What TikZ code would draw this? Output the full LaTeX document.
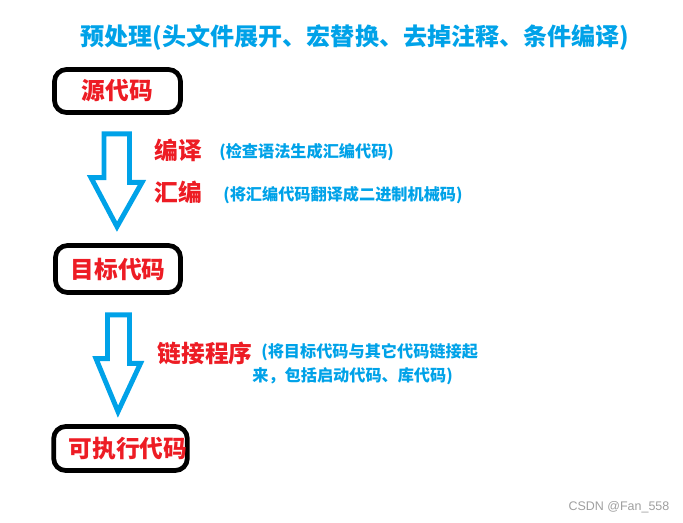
\documentclass[tikz,border=0pt]{standalone}
\usepackage{fontspec}
\setmainfont{Noto Sans CJK SC}
\newfontfamily\markfont{Liberation Sans}
\usetikzlibrary{calc}

\definecolor{paintblue}{HTML}{00A2E8}
\definecolor{paintred}{HTML}{ED1C24}

\tikzset{
  codebox/.style={draw, line width=2.7pt, rounded corners=0.24cm, inner sep=0pt,
    text=paintred, font=\bfseries\fontsize{13.5}{16}\selectfont},
  steplbl/.style={text=paintred, font=\bfseries\fontsize{13.5}{16}\selectfont, inner sep=0pt},
  notelbl/.style={text=paintblue, font=\bfseries\fontsize{9.2}{13.6}\selectfont, anchor=west, inner sep=0pt},
  blockarr/.style={draw=paintblue, line width=2.8pt, line join=miter}
}

\begin{document}
\begin{tikzpicture}[x=0.02cm, y=-0.02cm]
\useasboundingbox (0,0) rectangle (683,522);

\node(title)[text=paintblue, font=\bfseries\fontsize{13.7}{16}\selectfont] at (355,38) {预处理(头文件展开、宏替换、去掉注释、条件编译)};

\node(src)[codebox, minimum width=2.52cm, minimum height=0.86cm] at (117.5,91) {源代码};
\node(obj)[codebox, minimum width=2.5cm, minimum height=0.94cm] at (118,269) {目标代码};
\node(exe)[codebox, minimum width=2.6cm, minimum height=0.88cm] at (120.5,448.5) {\hspace*{3mm}可执行代码};

\node(compile)[steplbl] at (178,150) {编译};
\node(asm)[steplbl] at (178,192) {汇编};
\node(link)[steplbl] at (205,353) {链接程序};

\node(compilenote)[notelbl] at (219,152) {(检查语法生成汇编代码)};
\node(asmnote)[notelbl] at (223,195) {(将汇编代码翻译成二进制机械码)};
\node(linknote)[notelbl, align=left] at (252,364) {\hspace*{1.8mm}(将目标代码与其它代码链接起\\来，包括启动代码、库代码)};

\node(mark)[text=gray!75, font=\markfont\fontsize{7.1}{9}\selectfont] at (619,507) {CSDN @Fan\_558};

% hollow arrows between the boxes
\coordinate(a1s) at ($(src.south)+(-0.75,19)$);
\coordinate(a1t) at ($(obj.north)+(-1,-16.5)$);
\coordinate(a2s) at ($(obj.south)+(0.5,20)$);
\coordinate(a2t) at ($(exe.north)+(-2.5,-12.5)$);

\draw[blockarr] (a1s) ++(-12.75,0) -- ++(25.5,0) -- ++(0,48.5) -- ++(12.5,0) -- (a1t) -- ++(-26,-49) -- ++(13,0) -- cycle;
\draw[blockarr] (a2s) ++(-11,0) -- ++(22,0) -- ++(0,48.5) -- ++(11,0) -- (a2t) -- ++(-22,-53) -- ++(11.5,0) -- cycle;

\end{tikzpicture}
\end{document}
